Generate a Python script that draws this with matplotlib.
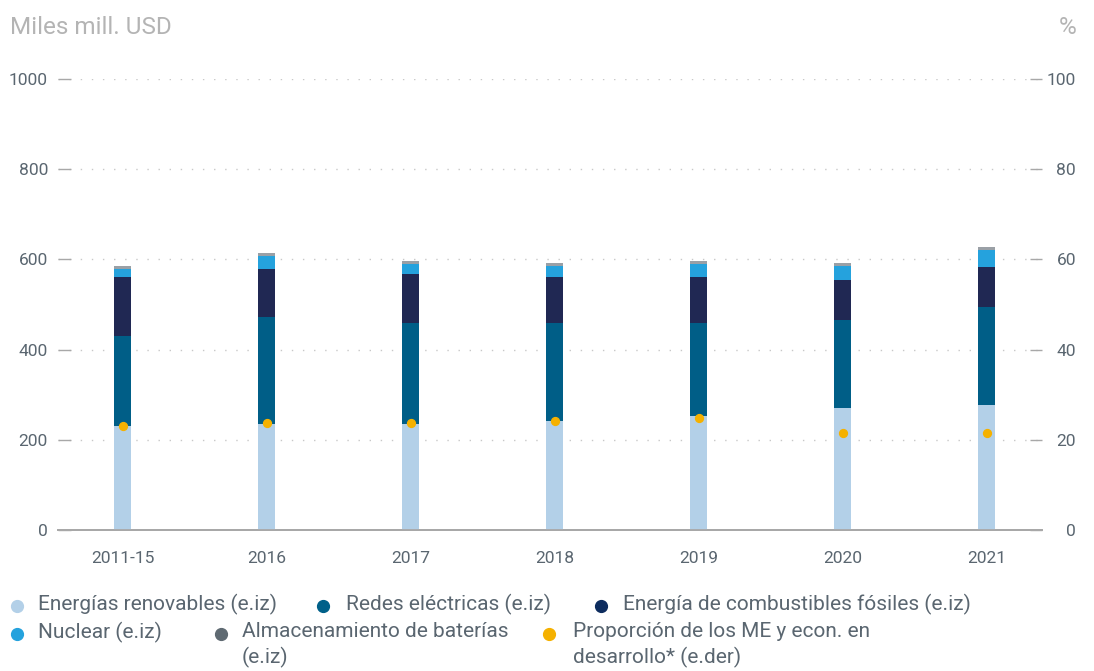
import matplotlib
matplotlib.use("Agg")
import matplotlib.pyplot as plt
from matplotlib.lines import Line2D

# data
categories = ["2011-15", "2016", "2017", "2018", "2019", "2020", "2021"]
renovables = [230, 235, 235, 242, 253, 271, 277]
redes = [200, 237, 224, 217, 206, 195, 217]
fosiles = [131, 107, 109, 102, 102, 88, 89]
nuclear = [18, 28, 22, 24, 29, 31, 38]
baterias = [6, 7, 6, 7, 6, 7, 6]
proporcion = [23.0, 23.7, 23.7, 24.2, 24.9, 21.4, 21.4]

labels = ["Energías renovables (e.iz)", "Redes eléctricas (e.iz)",
          "Energía de combustibles fósiles (e.iz)", "Nuclear (e.iz)",
          "Almacenamiento de baterías\n(e.iz)",
          "Proporción de los ME y econ. en\ndesarrollo* (e.der)"]

plt.rcParams["font.family"] = ["Roboto", "DejaVu Sans"]
TXT = "#5a6670"
bar_colors = ["#b3d0e8", "#005e87", "#202853", "#25a2dd", "#9aa0a6"]
leg_colors = ["#b3d0e8", "#006089", "#0d2c5e", "#25a2dd", "#5f6a72", "#f5b100"]

W, H = 1094, 671
fig = plt.figure(figsize=(W / 100, H / 100), dpi=100)
ax = fig.add_axes([58 / W, 1 - 530 / H, 984 / W, 451 / H])
ax2 = ax.twinx()

x = list(range(len(categories)))
bottom = [0] * len(x)
for vals, col in zip([renovables, redes, fosiles, nuclear, baterias], bar_colors):
    ax.bar(x, vals, width=0.118, bottom=bottom, color=col, zorder=3)
    bottom = [b + v for b, v in zip(bottom, vals)]

ax2.scatter(x, proporcion, s=32, color="#f5b100", zorder=5)

ax.set_xlim(-0.451, 6.382)
ax.set_ylim(0, 1000)
ax2.set_ylim(0, 100)
ax.set_yticks(range(0, 1001, 200))
ax2.set_yticks(range(0, 101, 20))
ax.set_xticks(x, categories)

ax.grid(axis="y", linestyle=(0, (1, 7)), color="#c8c8c8", lw=1, zorder=0)
for a in (ax, ax2):
    for s in ("top", "left", "right"):
        a.spines[s].set_visible(False)
    a.spines["bottom"].set_color("#a8a8a8")
    a.spines["bottom"].set_linewidth(1.3)
ax.set_axisbelow(True)

ax.tick_params(axis="y", direction="in", length=9, width=1, color="#a8a8a8",
               pad=7.2, labelsize=12.5, labelcolor=TXT)
ax2.tick_params(axis="y", direction="in", length=9, width=1, color="#a8a8a8",
                pad=24.5, labelsize=12.5, labelcolor=TXT)
for t in ax2.get_yticklabels():
    t.set_horizontalalignment("right")
ax.tick_params(axis="x", length=0, pad=15, labelsize=12.5, labelcolor=TXT)

fig.text(10 / W, 1 - 27 / H, "Miles mill. USD", fontsize=17.5, color="#b4b4b4",
         va="center", ha="left")
fig.text(1077 / W, 1 - 27 / H, "%", fontsize=17.5, color="#b4b4b4",
         va="center", ha="right")

# legend, laid out by hand like the reference
pos = [(17, 38, 606), (323, 346, 606), (601, 623, 606),
       (17, 38, 634), (221, 242, 634), (549, 573, 634)]
for (mx, tx, ty), lab, col in zip(pos, labels, leg_colors):
    fig.add_artist(Line2D([mx / W], [1 - ty / H], marker="o", markersize=8.5,
                          color=col, linestyle="none", transform=fig.transFigure))
    fig.text(tx / W, 1 - (ty - 12) / H, lab, fontsize=15, color=TXT,
             ha="left", va="top", linespacing=1.35)

fig.savefig("out.png", dpi=100)
